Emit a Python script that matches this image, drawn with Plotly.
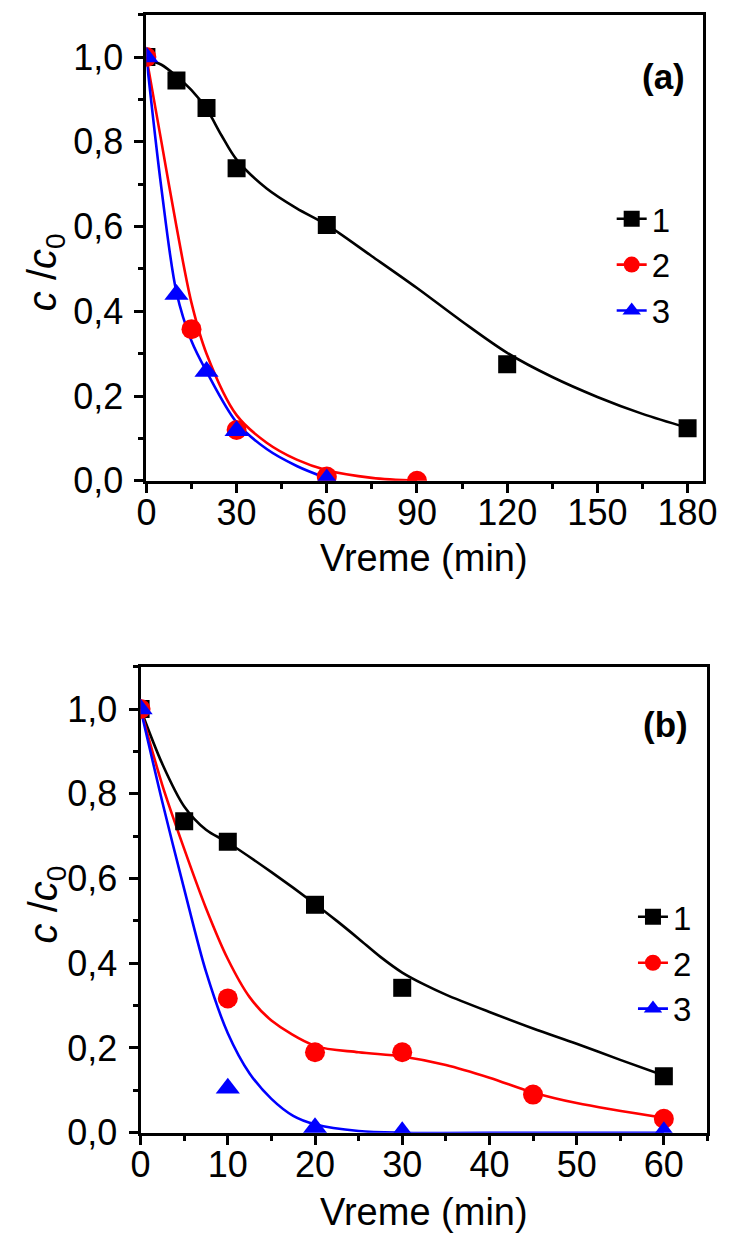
import plotly.graph_objects as go

# ---------------- data: panel (a) ----------------
a1_x = [0, 10, 20, 30, 60, 120, 180]
a1_y = [1.0, 0.945, 0.88, 0.738, 0.604, 0.275, 0.124]
a2_x = [0, 15, 30, 60, 90]
a2_y = [1.0, 0.358, 0.12, 0.01, 0.0]
a3_x = [0, 10, 20, 30, 60]
a3_y = [1.0, 0.44, 0.258, 0.118, 0.004]

# fitted curves
a1_fit_x = [0, 5, 10, 15, 20, 25, 30, 40, 50, 60, 75, 90, 105, 120, 135, 150, 165, 180]
a1_fit_y = [0.995, 0.982, 0.955, 0.922, 0.878, 0.815, 0.758, 0.69, 0.643, 0.604, 0.53, 0.455,
            0.376, 0.302, 0.245, 0.198, 0.158, 0.125]
a2_fit_x = [0, 5, 10, 15, 20, 30, 40, 50, 60, 75, 90]
a2_fit_y = [1.0, 0.80, 0.60, 0.42, 0.30, 0.155, 0.09, 0.05, 0.025, 0.007, 0.0]
a3_fit_x = [0, 5, 10, 15, 20, 30, 40, 50, 60]
a3_fit_y = [1.0, 0.69, 0.445, 0.33, 0.258, 0.138, 0.075, 0.035, 0.006]

# ---------------- data: panel (b) ----------------
b1_x = [0, 5, 10, 20, 30, 60]
b1_y = [1.0, 0.735, 0.687, 0.538, 0.342, 0.133]
b2_x = [0, 10, 20, 30, 45, 60]
b2_y = [1.0, 0.317, 0.19, 0.19, 0.09, 0.033]
b3_x = [0, 10, 20, 30, 60]
b3_y = [1.0, 0.105, 0.012, 0.002, 0.002]

b1_fit_x = [0, 2.5, 5, 7.5, 10, 15, 20, 22.5, 25, 27.5, 30, 32.5, 35, 40, 45, 50, 55, 60]
b1_fit_y = [1.0, 0.87, 0.77, 0.715, 0.685, 0.615, 0.54, 0.5, 0.458, 0.415, 0.378, 0.35, 0.326,
            0.285, 0.246, 0.21, 0.172, 0.135]
b2_fit_x = [0, 2.5, 5, 7.5, 10, 12.5, 15, 20, 25, 30, 35, 40, 45, 50, 60]
b2_fit_y = [1.0, 0.82, 0.67, 0.53, 0.41, 0.32, 0.265, 0.205, 0.19, 0.18, 0.16, 0.13, 0.095, 0.07, 0.035]
b3_fit_x = [0, 2.5, 5, 7.5, 10, 12.5, 15, 17.5, 20, 25, 30, 45, 60]
b3_fit_y = [1.0, 0.78, 0.575, 0.38, 0.235, 0.14, 0.08, 0.04, 0.02, 0.004, 0.0, 0.0, 0.0]

series_names = ["1", "2", "3"]
colors = ["#000000", "#ff0000", "#0000ff"]
symbols = ["square", "circle", "triangle-up"]
marker_sizes = [18, 20, 21]

y_tickvals = [0.0, 0.2, 0.4, 0.6, 0.8, 1.0]
y_ticktext = ["0,0", "0,2", "0,4", "0,6", "0,8", "1,0"]
xa_tickvals = [0, 30, 60, 90, 120, 150, 180]
xb_tickvals = [0, 10, 20, 30, 40, 50, 60]

x_title = "Vreme (min)"
y_title = "<i>c</i> /<i>c</i><sub>0</sub>"
panel_labels = ["<b>(a)</b>", "<b>(b)</b>"]

W, H = 735, 1255
FONT = "Liberation Sans, Arial, sans-serif"

fig = go.Figure()

panels = [
    ("x", "y", "legend",
     [(a1_x, a1_y, a1_fit_x, a1_fit_y), (a2_x, a2_y, a2_fit_x, a2_fit_y), (a3_x, a3_y, a3_fit_x, a3_fit_y)]),
    ("x2", "y2", "legend2",
     [(b1_x, b1_y, b1_fit_x, b1_fit_y), (b2_x, b2_y, b2_fit_x, b2_fit_y), (b3_x, b3_y, b3_fit_x, b3_fit_y)]),
]

for xa, ya, leg, series in panels:
    for i, (px, py, fx, fy) in enumerate(series):
        fig.add_trace(go.Scatter(
            x=fx, y=fy, mode="lines", xaxis=xa, yaxis=ya,
            line=dict(color=colors[i], width=2.6, shape="spline", smoothing=0.9),
            showlegend=False, hoverinfo="skip"))
    for i, (px, py, fx, fy) in enumerate(series):
        fig.add_trace(go.Scatter(
            x=px, y=py, mode="markers", xaxis=xa, yaxis=ya,
            marker=dict(color=colors[i], symbol=symbols[i], size=marker_sizes[i], line=dict(width=0)),
            showlegend=False))
    for i in range(3):
        fig.add_trace(go.Scatter(
            x=[None], y=[None], mode="lines+markers", xaxis=xa, yaxis=ya, legend=leg,
            name=series_names[i],
            line=dict(color=colors[i], width=2.6),
            marker=dict(color=colors[i], symbol=symbols[i], size=marker_sizes[i], line=dict(width=0))))

axis_common = dict(
    showline=True, linewidth=3, linecolor="black", mirror=True,
    ticks="outside", ticklen=9, tickwidth=3, tickcolor="black",
    showgrid=False, zeroline=False, layer="below traces",
    tickfont=dict(family=FONT, size=36, color="black"),
)

fig.update_layout(
    width=W, height=H,
    margin=dict(l=0, r=0, t=0, b=0),
    paper_bgcolor="white", plot_bgcolor="white",
    font=dict(family=FONT, color="black"),
    xaxis=dict(domain=[141 / W, 716 / W], range=[0, 185], anchor="y",
               tickvals=xa_tickvals, ticklabelstandoff=-11,
               minor=dict(dtick=15, ticks="outside", ticklen=5, tickwidth=3, tickcolor="black"),
               **axis_common),
    yaxis=dict(domain=[1 - 489 / H, 1 - 15 / H], range=[0, 1.1], anchor="x",
               tickvals=y_tickvals, ticktext=y_ticktext, ticklabelstandoff=4,
               minor=dict(dtick=0.1, ticks="outside", ticklen=5, tickwidth=3, tickcolor="black"),
               **axis_common),
    xaxis2=dict(domain=[135 / W, 721 / W], range=[0, 65], anchor="y2",
                tickvals=xb_tickvals, ticklabelstandoff=-11,
                minor=dict(dtick=5, ticks="outside", ticklen=5, tickwidth=3, tickcolor="black"),
                **axis_common),
    yaxis2=dict(domain=[1 - 1152 / H, 1 - 678 / H], range=[0, 1.1], anchor="x2",
                tickvals=y_tickvals, ticktext=y_ticktext, ticklabelstandoff=4,
                minor=dict(dtick=0.1, ticks="outside", ticklen=5, tickwidth=3, tickcolor="black"),
                **axis_common),
    legend=dict(x=622 / W, y=1 - 194 / H, xanchor="left", yanchor="top",
                bgcolor="rgba(0,0,0,0)", borderwidth=0,
                font=dict(family=FONT, size=33, color="black"), itemsizing="trace"),
    legend2=dict(x=644 / W, y=1 - 904 / H, xanchor="left", yanchor="top",
                 bgcolor="rgba(0,0,0,0)", borderwidth=0,
                 font=dict(family=FONT, size=33, color="black"), itemsizing="trace"),
)

ann = []
# panel labels
for lab, (cx, cy) in zip(panel_labels, [(676, 78), (678, 737)]):
    ann.append(dict(text=lab, x=cx / W, y=1 - cy / H, xref="paper", yref="paper",
                    xanchor="center", yanchor="middle", showarrow=False,
                    font=dict(family=FONT, size=35, color="black")))
# x-axis titles
for cy in [567, 1233]:
    ann.append(dict(text=x_title, x=428 / W, y=1 - cy / H, xref="paper", yref="paper",
                    xanchor="center", yanchor="middle", showarrow=False,
                    font=dict(family=FONT, size=38, color="black")))
# y-axis titles
for cy in [277, 920]:
    ann.append(dict(text=y_title, x=37 / W, y=1 - cy / H, xref="paper", yref="paper",
                    xanchor="center", yanchor="middle", showarrow=False, textangle=-90,
                    font=dict(family=FONT, size=40, color="black")))
fig.update_layout(annotations=ann)

fig.write_html("out.html")
